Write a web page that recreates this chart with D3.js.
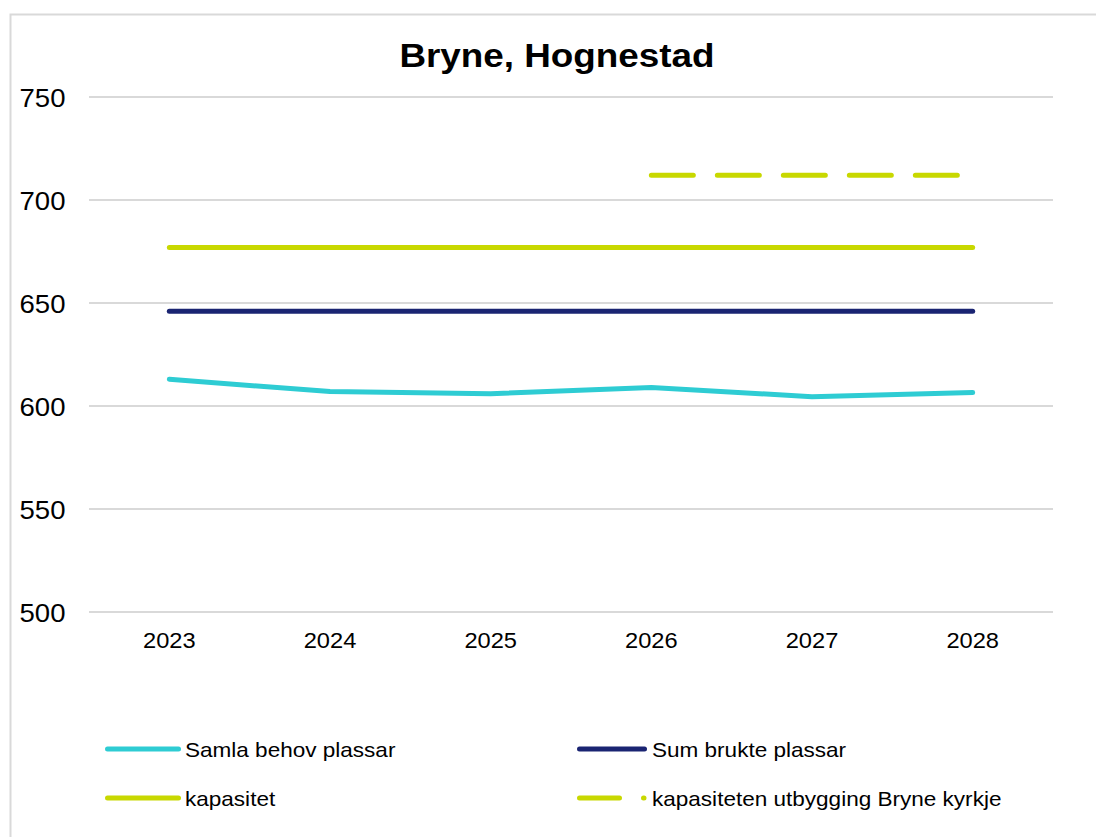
<!DOCTYPE html>
<html><head><meta charset="utf-8">
<script src="https://cdn.jsdelivr.net/npm/d3@7"></script>
<style>html,body{margin:0;padding:0;background:#fff;}text{font-family:"Liberation Sans",Arial,sans-serif;fill:#000;}</style>
</head><body>
<svg id="c" width="1096" height="837"></svg>
<script>
const title = "Bryne, Hognestad";
const years = ["2023","2024","2025","2026","2027","2028"];
const samlaBehov = [613, 607, 606, 609, 604.5, 606.5];
const sumBrukte = [646, 646, 646, 646, 646, 646];
const kapasitet = [677, 677, 677, 677, 677, 677];
const kapasitetUtbygging = [null, null, null, 712, 712, 712];
const yTicks = [500, 550, 600, 650, 700, 750];
const seriesNames = ["Samla behov plassar","Sum brukte plassar","kapasitet","kapasiteten utbygging Bryne kyrkje"];
const colors = ["#2ECCD3","#1A2472","#C8D800","#C8D800"];

const svg = d3.select("#c");
function stretchText(sel, sx){ sel.attr("transform", function(){ const x=+this.getAttribute("data-x"), y=+this.getAttribute("data-y"); return `translate(${x},${y}) scale(${sx},1)`; }); }

svg.append("rect").attr("x",10.5).attr("y",14.5).attr("width",1100).attr("height",840)
  .attr("fill","#fff").attr("stroke","#d9d9d9").attr("stroke-width",2);

const x = d3.scaleBand().domain(years).range([89,1053]);
const y = d3.scaleLinear().domain([500,750]).range([612,97]);

// gridlines
svg.append("g").selectAll("line").data(yTicks).join("line")
  .attr("x1",89).attr("x2",1053).attr("y1",d=>y(d)).attr("y2",d=>y(d))
  .attr("stroke","#d9d9d9").attr("stroke-width",2);

// y labels
svg.append("g").selectAll("text").data(yTicks).join("text")
  .attr("data-x",65.5).attr("data-y",d=>y(d)+9.5)
  .attr("text-anchor","end").attr("font-size",26).text(d=>d).call(stretchText,1.06);

// x labels
svg.append("g").selectAll("text").data(years).join("text")
  .attr("data-x",d=>x(d)+x.bandwidth()/2).attr("data-y",648)
  .attr("text-anchor","middle").attr("font-size",21.5).text(d=>d).call(stretchText,1.1);

// title
svg.append("text").attr("data-x",557).attr("data-y",67).attr("text-anchor","middle")
  .attr("font-size",33.5).attr("font-weight","bold").text(title).call(stretchText,1.1);

const cx = d => x(d) + x.bandwidth()/2;
const line = d3.line().defined(d=>d.v!=null).x(d=>cx(d.year)).y(d=>y(d.v));
const allSeries = [samlaBehov, sumBrukte, kapasitet, kapasitetUtbygging];
const dashes = [null,null,null,"42,24"];
const order = [2,3,1,0];
order.forEach(i=>{
  const data = years.map((yr,j)=>({year:yr, v:allSeries[i][j]}));
  svg.append("path").datum(data).attr("d",line).attr("fill","none")
    .attr("stroke",colors[i]).attr("stroke-width",5).attr("stroke-linecap","round").attr("stroke-linejoin","round")
    .attr("stroke-dasharray",dashes[i]);
});

// legend
const legendPos = [
  {lx1:107.5, lx2:178.5, tx:185, y:749},
  {lx1:579.5, lx2:644.5, tx:652, y:749},
  {lx1:107.5, lx2:178.5, tx:185, y:798},
  {lx1:579.5, lx2:644, tx:652, y:798}
];
const lg = svg.append("g");
seriesNames.forEach((name,i)=>{
  const p = legendPos[i];
  lg.append("line").attr("x1",p.lx1).attr("x2",p.lx2).attr("y1",p.y).attr("y2",p.y)
    .attr("stroke",colors[i]).attr("stroke-width",5).attr("stroke-linecap","round")
    .attr("stroke-dasharray", i===3 ? "40,24" : null);
  lg.append("text").attr("data-x",p.tx).attr("data-y",p.y+7.5).attr("font-size",20.5).text(name).call(stretchText,1.1);
});
</script>
</body></html>
